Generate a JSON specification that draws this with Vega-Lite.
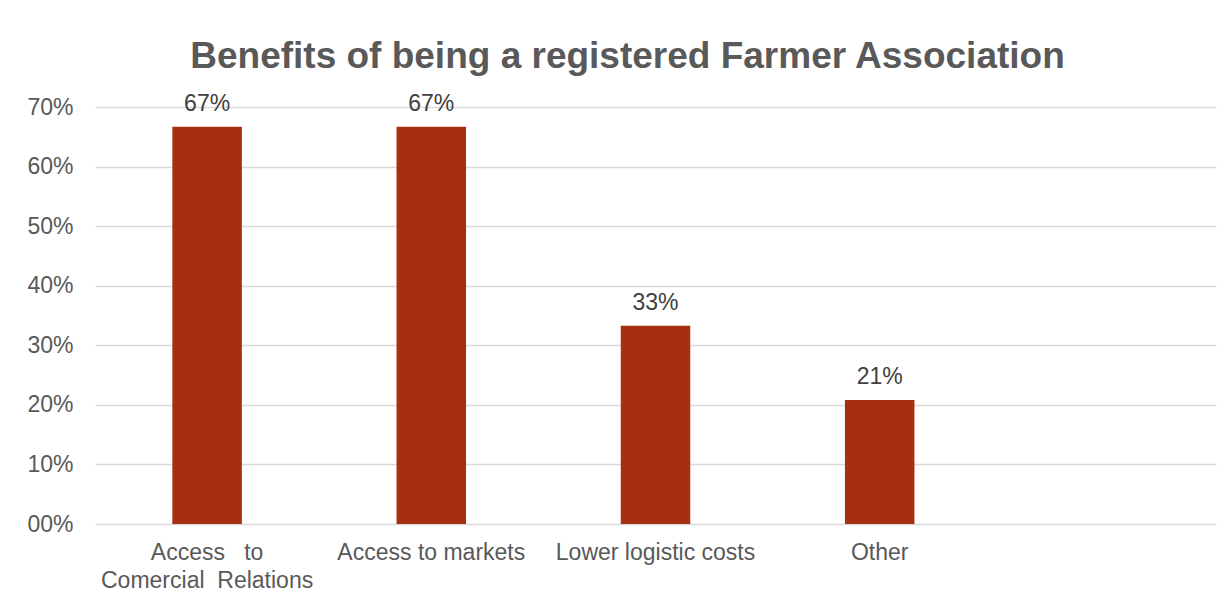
{
  "$schema": "https://vega.github.io/schema/vega-lite/v6.json",
  "width": 1121,
  "height": 417,
  "autosize": {"type": "none"},
  "padding": {"left": 95, "top": 107, "right": 16, "bottom": 79},
  "background": "white",
  "config": {
    "view": {"stroke": null},
    "font": "Liberation Sans"
  },
  "title": {
    "text": "Benefits of being a registered Farmer Association",
    "font": "Liberation Sans",
    "fontSize": 37,
    "fontWeight": "bold",
    "color": "#595959",
    "anchor": "middle",
    "dx": -28,
    "offset": 17
  },
  "data": {
    "values": [
      {"benefit": "Access to Comercial Relations", "share": 0.667},
      {"benefit": "Access to markets", "share": 0.667},
      {"benefit": "Lower logistic costs", "share": 0.333},
      {"benefit": "Other", "share": 0.208}
    ]
  },
  "encoding": {
    "x": {
      "field": "benefit",
      "type": "nominal",
      "sort": null,
      "scale": {
        "domain": ["Access to Comercial Relations", "Access to markets", "Lower logistic costs", "Other", " "],
        "paddingInner": 0.69,
        "paddingOuter": 0.345
      },
      "axis": {
        "title": null,
        "domain": false,
        "ticks": false,
        "labelAngle": 0,
        "labelFontSize": 23,
        "labelColor": "#595959",
        "labelPadding": 17,
        "labelLineHeight": 28,
        "labelLimit": 300,
        "labelExpr": "datum.value == 'Access to Comercial Relations' ? ['Access\u00a0\u00a0\u00a0to', 'Comercial\u00a0\u00a0Relations'] : datum.label"
      }
    },
    "y": {
      "field": "share",
      "type": "quantitative",
      "scale": {"domain": [0, 0.7], "nice": false},
      "axis": {
        "title": null,
        "domain": false,
        "ticks": false,
        "values": [0, 0.1, 0.2, 0.3, 0.4, 0.5, 0.6, 0.7],
        "labelFontSize": 23,
        "labelColor": "#595959",
        "labelPadding": 22,
        "gridColor": "#D9D9D9",
        "gridWidth": 1.5,
        "labelExpr": "datum.value == 0 ? '00%' : format(datum.value, '.0%')"
      }
    }
  },
  "layer": [
    {"mark": {"type": "bar", "color": "#A62F11"}},
    {
      "mark": {"type": "text", "baseline": "alphabetic", "dy": -16, "fontSize": 23, "color": "#404040"},
      "encoding": {"text": {"field": "share", "type": "quantitative", "format": ".0%"}}
    }
  ]
}
